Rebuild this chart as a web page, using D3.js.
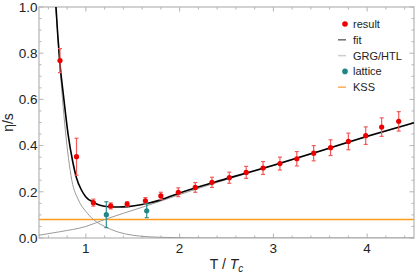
<!DOCTYPE html>
<html>
<head>
<meta charset="utf-8">
<script src="https://cdn.jsdelivr.net/npm/d3@7"></script>
<style>
  body { margin: 0; background: #fff; }
  text { font-family: "Liberation Sans", Arial, sans-serif; fill: #222; }
</style>
</head>
<body>
<div id="chart"></div>
<script>
// result points (T/Tc, eta/s, error)
var resT   = [0.724, 0.90, 1.08, 1.265, 1.44, 1.635, 1.80, 1.986, 2.167, 2.345, 2.53, 2.71, 2.89, 3.07, 3.25, 3.43, 3.61, 3.80, 3.985, 4.155, 4.337];
var resEta = [0.768, 0.352, 0.153, 0.139, 0.147, 0.161, 0.182, 0.198, 0.219, 0.241, 0.261, 0.284, 0.303, 0.322, 0.343, 0.367, 0.391, 0.418, 0.443, 0.480, 0.505];
var resErr = [0.052, 0.08, 0.015, 0.013, 0.010, 0.014, 0.016, 0.019, 0.021, 0.022, 0.024, 0.026, 0.028, 0.028, 0.031, 0.033, 0.034, 0.036, 0.038, 0.040, 0.042];

// lattice points
var latT   = [1.218, 1.649];
var latEta = [0.101, 0.118];
var latErr = [0.056, 0.03];

// fit curve
var fitT   = [0.681, 0.70, 0.72, 0.76, 0.81, 0.86, 0.90, 0.95, 1.00, 1.08, 1.15, 1.25, 1.35, 1.45, 1.60, 1.80, 2.00, 2.50, 3.00, 3.50, 4.00, 4.50];
var fitEta = [1.00, 0.88, 0.77, 0.62, 0.45, 0.33, 0.26, 0.21, 0.178, 0.155, 0.142, 0.135, 0.134, 0.136, 0.145, 0.165, 0.195, 0.257, 0.315, 0.377, 0.44, 0.499];

// GRG (hadron gas) branch and HTL branch
var grgT   = [0.679, 0.72, 0.78, 0.85, 0.92, 1.00, 1.08, 1.20, 1.35, 1.50, 1.80, 2.30, 4.50];
var grgEta = [1.00, 0.76, 0.47, 0.25, 0.165, 0.115, 0.08, 0.05, 0.025, 0.012, 0.003, 0.0, 0.0];
var htlT   = [0.50, 0.72, 1.00, 1.20, 1.40, 1.60, 1.80, 2.00, 2.50, 3.00, 3.50, 4.00, 4.50];
var htlEta = [0.012, 0.027, 0.05, 0.08, 0.107, 0.133, 0.16, 0.188, 0.253, 0.313, 0.375, 0.438, 0.497];

var kss = 1 / (4 * Math.PI);

var xTicks = [1, 2, 3, 4];
var yTicks = [0, 0.2, 0.4, 0.6, 0.8, 1.0];

var legendItems = ["result", "fit", "GRG/HTL", "lattice", "KSS"];

var W = 415, H = 276;
var pL = 39, pR = 414, pT = 7, pB = 238;

var x = d3.scaleLinear().domain([0.5, 4.5]).range([pL, pR]);
var y = d3.scaleLinear().domain([0, 1]).range([pB, pT]);

var svg = d3.select("#chart").append("svg")
    .attr("width", W)
    .attr("height", H);

svg.append("defs").append("clipPath")
    .attr("id", "clip")
  .append("rect")
    .attr("x", pL).attr("y", pT)
    .attr("width", pR - pL).attr("height", pB - pT);

var frameColor = "#b4b4b4";

// minor + major ticks, inward on all four sides
var xMinor = d3.range(0.6, 4.5, 0.2).filter(function(v) { return Math.abs(v - Math.round(v)) > 0.01; });
var yMinor = d3.range(0.05, 1.0, 0.05).filter(function(v) { return Math.abs(v * 5 - Math.round(v * 5)) > 0.01; });

var ticks = svg.append("g").attr("stroke", frameColor).attr("stroke-width", 1);
xTicks.forEach(function(t) {
  ticks.append("line").attr("x1", x(t)).attr("x2", x(t)).attr("y1", pB).attr("y2", pB - 4.5);
  ticks.append("line").attr("x1", x(t)).attr("x2", x(t)).attr("y1", pT).attr("y2", pT + 4.5);
});
xMinor.forEach(function(t) {
  ticks.append("line").attr("x1", x(t)).attr("x2", x(t)).attr("y1", pB).attr("y2", pB - 2.5);
  ticks.append("line").attr("x1", x(t)).attr("x2", x(t)).attr("y1", pT).attr("y2", pT + 2.5);
});
yTicks.forEach(function(t) {
  ticks.append("line").attr("x1", pL).attr("x2", pL + 4.5).attr("y1", y(t)).attr("y2", y(t));
  ticks.append("line").attr("x1", pR).attr("x2", pR - 4.5).attr("y1", y(t)).attr("y2", y(t));
});
yMinor.forEach(function(t) {
  ticks.append("line").attr("x1", pL).attr("x2", pL + 2.5).attr("y1", y(t)).attr("y2", y(t));
  ticks.append("line").attr("x1", pR).attr("x2", pR - 2.5).attr("y1", y(t)).attr("y2", y(t));
});

svg.append("rect")
    .attr("x", pL).attr("y", pT)
    .attr("width", pR - pL).attr("height", pB - pT)
    .attr("fill", "none")
    .attr("stroke", frameColor)
    .attr("stroke-width", 1.2);

// tick labels
svg.append("g").selectAll("text")
    .data(yTicks)
  .enter().append("text")
    .attr("x", pL - 1.5)
    .attr("y", function(d) { return y(d); })
    .attr("dy", "0.36em")
    .attr("text-anchor", "end")
    .style("font-size", "13.5px")
    .text(function(d) { return d.toFixed(1); });

svg.append("g").selectAll("text")
    .data(xTicks)
  .enter().append("text")
    .attr("x", function(d) { return x(d); })
    .attr("y", 253)
    .attr("text-anchor", "middle")
    .style("font-size", "13.5px")
    .text(function(d) { return d; });

// axis titles
var xt = svg.append("text")
    .attr("x", (pL + pR) / 2)
    .attr("y", 269)
    .attr("text-anchor", "middle")
    .style("font-size", "14px");
xt.append("tspan").text("T / ");
xt.append("tspan").style("font-style", "italic").text("T");
xt.append("tspan").style("font-style", "italic").style("font-size", "10px").attr("dy", 3).text("c");

svg.append("text")
    .attr("transform", "translate(13," + ((pT + pB) / 2) + ") rotate(-90)")
    .attr("text-anchor", "middle")
    .style("font-size", "14px")
    .text("η/s");

var plot = svg.append("g").attr("clip-path", "url(#clip)");

// KSS bound
plot.append("line")
    .attr("x1", pL).attr("x2", pR)
    .attr("y1", y(kss)).attr("y2", y(kss))
    .attr("stroke", "#ff9a1a")
    .attr("stroke-width", 1.5);

var line = d3.line()
    .x(function(d) { return x(d[0]); })
    .y(function(d) { return y(d[1]); })
    .curve(d3.curveMonotoneX);

plot.append("path")
    .datum(d3.zip(grgT, grgEta))
    .attr("d", line)
    .attr("fill", "none")
    .attr("stroke", "#9a9a9a")
    .attr("stroke-width", 1);

plot.append("path")
    .datum(d3.zip(htlT, htlEta))
    .attr("d", line)
    .attr("fill", "none")
    .attr("stroke", "#9a9a9a")
    .attr("stroke-width", 1);

plot.append("path")
    .datum(d3.zip(fitT, fitEta))
    .attr("d", line)
    .attr("fill", "none")
    .attr("stroke", "#000")
    .attr("stroke-width", 1.6);

// error bars + points
function drawPoints(ts, etas, errs, col, barCol) {
  var g = plot.append("g");
  var data = d3.zip(ts, etas, errs);
  var bars = g.selectAll("g.bar").data(data).enter().append("g")
      .attr("stroke", barCol).attr("stroke-width", 1.2);
  bars.append("line")
      .attr("x1", function(d) { return x(d[0]); })
      .attr("x2", function(d) { return x(d[0]); })
      .attr("y1", function(d) { return y(d[1] - d[2]); })
      .attr("y2", function(d) { return y(d[1] + d[2]); });
  bars.append("line")
      .attr("x1", function(d) { return x(d[0]) - 2; })
      .attr("x2", function(d) { return x(d[0]) + 2; })
      .attr("y1", function(d) { return y(d[1] - d[2]); })
      .attr("y2", function(d) { return y(d[1] - d[2]); });
  bars.append("line")
      .attr("x1", function(d) { return x(d[0]) - 2; })
      .attr("x2", function(d) { return x(d[0]) + 2; })
      .attr("y1", function(d) { return y(d[1] + d[2]); })
      .attr("y2", function(d) { return y(d[1] + d[2]); });
  g.selectAll("circle").data(data).enter().append("circle")
      .attr("cx", function(d) { return x(d[0]); })
      .attr("cy", function(d) { return y(d[1]); })
      .attr("r", 2.6)
      .attr("fill", col);
}
drawPoints(resT, resEta, resErr, "#ee0000", "#f25a5a");
drawPoints(latT, latEta, latErr, "#1f8585", "#2e9090");

// legend
var lg = svg.append("g").attr("transform", "translate(0,24)");
var dy = 15.8;
legendItems.forEach(function(name, i) {
  var yy = i * dy;
  if (name == "result" || name == "lattice") {
    lg.append("circle").attr("cx", 345).attr("cy", yy).attr("r", 2.8)
      .attr("fill", name == "result" ? "#ee0000" : "#1f8585");
  } else {
    var c = name == "fit" ? "#777" : (name == "KSS" ? "#ffb060" : "#cfcfcf");
    lg.append("line").attr("x1", 338).attr("x2", 346).attr("y1", yy).attr("y2", yy)
      .attr("stroke", c).attr("stroke-width", 1.6);
  }
  lg.append("text")
      .attr("x", 353)
      .attr("y", yy)
      .attr("dy", "0.36em")
      .style("font-size", "11px")
      .text(name);
});
</script>
</body>
</html>
